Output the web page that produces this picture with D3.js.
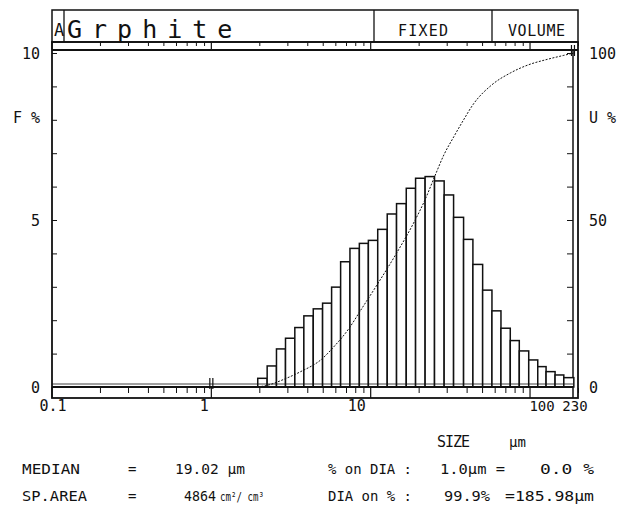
<!DOCTYPE html>
<html lang="en">
<head>
<meta charset="utf-8">
<title>Grphite</title>
<style type="text/css">
  body { margin: 0; background: #fff; }
  text { font-family: "DejaVu Sans Mono", monospace; fill: #111; }
</style>
</head>
<body>
<script src="https://cdnjs.cloudflare.com/ajax/libs/d3/7.8.5/d3.min.js"></script>
<script>

    // bin edges (um) and frequency per bin (%)
    var binEdges = [1.955, 2.240, 2.563, 2.920, 3.341, 3.807, 4.361, 4.990, 5.685, 6.476,
                    7.411, 8.489, 9.671, 11.07, 12.70, 14.53, 16.72, 19.13, 21.96, 25.15,
                    28.91, 33.13, 38.28, 43.80, 50.42, 57.68, 65.70, 75.16, 85.62, 98.13,
                    111.8, 126.1, 143.6, 162.9, 188.3];
    var freq = [0.26, 0.63, 1.14, 1.46, 1.78, 2.13, 2.34, 2.51, 2.99, 3.75,
                4.15, 4.30, 4.39, 4.72, 5.18, 5.49, 5.95, 6.25, 6.30, 6.17,
                5.75, 5.08, 4.42, 3.67, 2.90, 2.28, 1.76, 1.39, 1.08, 0.81,
                0.61, 0.46, 0.36, 0.28];

    // cumulative volume curve (size um, U %)
    var cumSize = [1.955, 2.24, 2.92, 3.6, 4.97, 5.86, 7.3, 8.66, 11.1, 14.5, 19.02,
                   21.9, 25.2, 28.8, 33.3, 38.3, 43.8, 57.7, 75.1, 98.2, 126, 163, 188];
    var cumPct = [0, 0.5, 2.5, 4.5, 8.5, 12, 17.5, 23, 31, 40, 50,
                  56, 63, 69.5, 75, 80, 84.5, 90.5, 94, 96.5, 98, 99.3, 100];

    var xTickVals = [0.1, 1, 10, 100, 200];
    var xTickText = ["0.1", "1", "10", "100", "230"];
    var fTicks = [0, 5, 10];
    var uTicks = [0, 50, 100];

    var w = 618, h = 511;
    var left = 52, right = 578, inRight = 573;
    var headTop = 10, headBot = 42, stripBot = 50;
    var base = 387, plotTop = 53, botStrip = 398;

    var svg = d3.select("body").append("svg")
        .attr("width", w).attr("height", h);

    var x = d3.scaleLog().domain([0.1, 200]).range([left, right]);
    var y = d3.scaleLinear().domain([0, 10]).range([base, plotTop]);
    var yU = d3.scaleLinear().domain([0, 100]).range([base, plotTop]);

    var ink = "#111";

    // header box
    svg.append("rect").attr("x", left).attr("y", headTop)
        .attr("width", right - left).attr("height", headBot - headTop)
        .attr("fill", "none").attr("stroke", ink).attr("stroke-width", 1.5);
    [64, 374, 492].forEach(function(d) {
        svg.append("line").attr("x1", d).attr("x2", d).attr("y1", headTop).attr("y2", headBot)
            .attr("stroke", ink).attr("stroke-width", 1.3);
    });
    svg.append("text").attr("x", 54).attr("y", 36).attr("font-size", 17).text("A");
    svg.append("text").attr("x", 67).attr("y", 38).attr("font-size", 25)
        .attr("letter-spacing", 10).attr("font-family", "Liberation Mono").text("Grphite");
    svg.append("text").attr("x", 398).attr("y", 36).attr("font-size", 15)
        .attr("textLength", 50).text("FIXED");
    svg.append("text").attr("x", 508).attr("y", 36).attr("font-size", 15)
        .attr("textLength", 57).text("VOLUME");

    // outer frame of the plot
    svg.append("rect").attr("x", left).attr("y", headBot)
        .attr("width", right - left).attr("height", botStrip - headBot)
        .attr("fill", "none").attr("stroke", ink).attr("stroke-width", 1.8);
    svg.append("line").attr("x1", left).attr("x2", right).attr("y1", stripBot).attr("y2", stripBot)
        .attr("stroke", ink).attr("stroke-width", 2);
    svg.append("line").attr("x1", inRight).attr("x2", inRight).attr("y1", stripBot).attr("y2", botStrip)
        .attr("stroke", ink).attr("stroke-width", 1.5);

    // log tick strips top and bottom
    var logTicks = x.ticks().filter(function(d) { return d <= 200; });
    function isDecade(d) { return Math.abs(Math.log10(d) - Math.round(Math.log10(d))) < 1e-6; }
    var bottomAxis = d3.axisBottom(x).tickValues(logTicks.filter(function(d){ return !isDecade(d); }))
        .tickSize(5).tickFormat("");
    svg.append("g").attr("transform", "translate(0," + (base + 1) + ")").call(bottomAxis)
        .call(function(g) { g.select(".domain").remove(); });
    var topAxis = d3.axisBottom(x).tickValues(logTicks.filter(function(d){ return !isDecade(d); }))
        .tickSize(4).tickFormat("");
    svg.append("g").attr("transform", "translate(0," + headBot + ")").call(topAxis)
        .call(function(g) { g.select(".domain").remove(); });
    logTicks.filter(isDecade).forEach(function(d) {
        svg.append("line").attr("x1", x(d)).attr("x2", x(d)).attr("y1", base).attr("y2", botStrip)
            .attr("stroke", ink).attr("stroke-width", 1.2);
        svg.append("line").attr("x1", x(d)).attr("x2", x(d)).attr("y1", headBot).attr("y2", stripBot)
            .attr("stroke", ink).attr("stroke-width", 1.2);
    });
    svg.selectAll(".tick line").attr("stroke", ink).attr("stroke-width", 1);

    // left F% ticks and right U% ticks
    svg.append("g").attr("transform", "translate(" + left + ",0)")
        .call(d3.axisRight(y).tickValues(d3.range(0, 11)).tickSize(5).tickFormat(""))
        .call(function(g) { g.select(".domain").remove(); g.selectAll("line").attr("stroke", ink); });
    svg.append("g").attr("transform", "translate(" + inRight + ",0)")
        .call(d3.axisLeft(yU).tickValues(d3.range(0, 101, 10)).tickSize(6).tickFormat(""))
        .call(function(g) { g.select(".domain").remove(); g.selectAll("line").attr("stroke", ink); });

    // bars
    svg.selectAll("rect.bar").data(freq).enter().append("rect")
        .attr("class", "bar")
        .attr("x", function(d, i) { return x(binEdges[i]); })
        .attr("width", function(d, i) { return x(binEdges[i + 1]) - x(binEdges[i]); })
        .attr("y", function(d) { return y(d); })
        .attr("height", function(d) { return base - y(d); })
        .attr("fill", "#fff").attr("stroke", ink).attr("stroke-width", 1.5);

    // baseline
    svg.append("line").attr("x1", left).attr("x2", inRight).attr("y1", base).attr("y2", base)
        .attr("stroke", ink).attr("stroke-width", 2.2);
    svg.append("line").attr("x1", left).attr("x2", inRight).attr("y1", base - 3).attr("y2", base - 3)
        .attr("stroke", ink).attr("stroke-width", 0.8);

    // cumulative curve
    var line = d3.line()
        .x(function(d, i) { return x(cumSize[i]); })
        .y(function(d) { return yU(d); })
        .curve(d3.curveMonotoneX);
    svg.append("path").datum(cumPct).attr("d", line)
        .attr("fill", "none").attr("stroke", ink).attr("stroke-width", 1)
        .attr("stroke-dasharray", "2,1.5");

    // markers at 1.0 um and 185.98 um
    [1.0, 185.98].forEach(function(d, k) {
        var yy = k === 0 ? base - 9 : plotTop - 8;
        [-1.5, 1.5].forEach(function(o) {
            svg.append("line").attr("x1", x(d) + o).attr("x2", x(d) + o)
                .attr("y1", yy).attr("y2", yy + 11).attr("stroke", ink).attr("stroke-width", 1.2);
        });
    });

    // axis labels
    fTicks.forEach(function(d) {
        svg.append("text").attr("x", 40).attr("y", y(d) + 6).attr("font-size", 15)
            .attr("text-anchor", "end").text(d);
    });
    svg.append("text").attr("x", 40).attr("y", 123).attr("font-size", 15)
        .attr("text-anchor", "end").text("F %");
    uTicks.forEach(function(d) {
        svg.append("text").attr("x", 589).attr("y", yU(d) + 6).attr("font-size", 15)
            .text(d);
    });
    svg.append("text").attr("x", 589).attr("y", 123).attr("font-size", 15).text("U %");

    var xLabelShift = [1, -7, -14, 12, -3];
    xTickVals.forEach(function(d, i) {
        svg.append("text").attr("x", x(d) + xLabelShift[i]).attr("y", 411)
            .attr("font-size", i >= 3 ? 14 : 15)
            .attr("text-anchor", "middle").text(xTickText[i]);
    });

    svg.append("text").attr("x", 437).attr("y", 447).attr("font-size", 15)
        .attr("textLength", 33).text("SIZE");
    svg.append("text").attr("x", 509).attr("y", 447).attr("font-size", 14).text("\u00b5m");

    // result block: [x, text, width, size]
    var rows = [
        [[22, "MEDIAN", 58], [128, "=", 0], [175, "19.02 \u00b5m", 70], [328, "% on DIA :", 84], [440, "1.0\u00b5m =", 65], [540, "0.0 %", 54]],
        [[22, "SP.AREA", 65], [128, "=", 0], [184, "4864", 32], [220, "cm\u00b2/ cm\u00b3", 44, 13], [328, "DIA on % :", 84], [444, "99.9%", 46], [505, "=185.98\u00b5m", 89]]
    ];
    rows.forEach(function(r, j) {
        r.forEach(function(c) {
            var t = svg.append("text").attr("x", c[0]).attr("y", 474 + j * 27)
                .attr("font-size", c[3] || 14).text(c[1]);
            if (c[2]) t.attr("textLength", c[2]).attr("lengthAdjust", "spacingAndGlyphs");
        });
    });

</script>
</body>
</html>
